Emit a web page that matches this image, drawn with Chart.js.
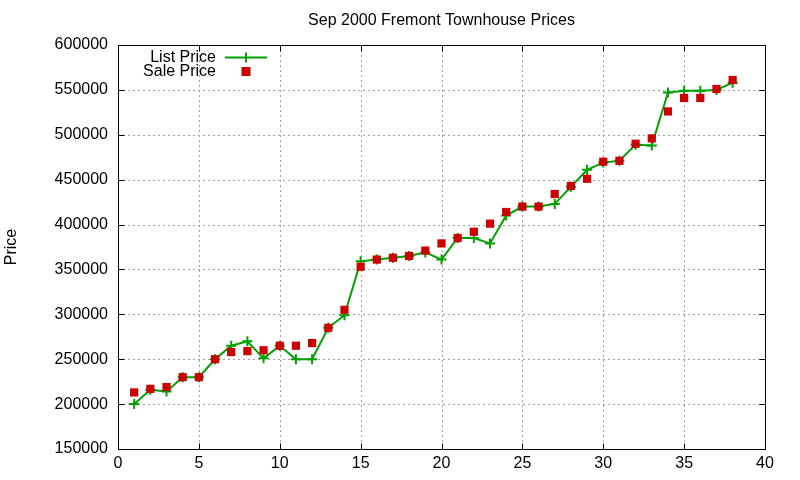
<!DOCTYPE html>
<html>
<head>
<meta charset="utf-8">
<title>Sep 2000 Fremont Townhouse Prices</title>
<script src="https://cdn.jsdelivr.net/npm/chart.js@4.4.1/dist/chart.umd.min.js"></script>
<style>
    html, body { margin: 0; padding: 0; background: #fff; }
    #wrap { width: 800px; height: 480px; }
</style>
</head>
<body>
<div id="wrap"><canvas id="chart" width="800" height="480"></canvas></div>
<script>
// data (nomor rumah, harga listing, harga jual)
const houseNo = [1, 2, 3, 4, 5, 6, 7, 8, 9, 10, 11, 12, 13, 14, 15, 16, 17, 18, 19,
    20, 21, 22, 23, 24, 25, 26, 27, 28, 29, 30, 31, 32, 33, 34, 35, 36, 37, 38];

const listPrice = [200000, 216000, 214000, 230000, 230000, 250000, 265000, 270000, 251000, 265000,
    250000, 250000, 285000, 299000, 359000, 361000, 363000, 365000, 369000, 361000,
    385000, 385000, 379000, 410000, 420000, 420000, 423000, 442000, 461000, 469000,
    471000, 489000, 488000, 547000, 549000, 549000, 550000, 558000];

const salePrice = [213000, 217000, 219000, 230000, 230000, 250000, 258000, 259000, 260000, 265000,
    265000, 268000, 285000, 305000, 353000, 361000, 363000, 365000, 371000, 379000,
    385000, 392000, 401000, 414000, 420000, 420000, 434000, 443000, 451000, 470000,
    471000, 490000, 496000, 526000, 541000, 541000, 551000, 561000];

const xTicks = [0, 5, 10, 15, 20, 25, 30, 35, 40];
const yTicks = [150000, 200000, 250000, 300000, 350000, 400000, 450000, 500000, 550000, 600000];

const chartTitle = 'Sep 2000 Fremont Townhouse Prices';
const yTitle = 'Price';

const FONT = '"Liberation Sans", Arial, Helvetica, sans-serif';
const GREEN = '#00a000';
const RED = '#cc0000';

Chart.defaults.font.family = FONT;
Chart.defaults.font.size = 16;
Chart.defaults.color = '#000';

// plugin untuk gaya gnuplot: grid titik-titik, bingkai, tick ke dalam, judul, key
const gnuplotFrame = {
    id: 'gnuplotFrame',
    beforeDatasetsDraw(chart) {
        const { ctx, chartArea: a, scales: { x, y } } = chart;
        ctx.save();
        ctx.strokeStyle = '#a0a0a0';
        ctx.lineWidth = 1;
        ctx.setLineDash([2, 3]);
        ctx.beginPath();
        xTicks.forEach(v => {
            if (v === x.min || v === x.max) return;
            const px = Math.round(x.getPixelForValue(v)) + 0.5;
            ctx.moveTo(px, a.top);
            ctx.lineTo(px, a.bottom);
        });
        yTicks.forEach(v => {
            if (v === y.min || v === y.max) return;
            const py = Math.round(y.getPixelForValue(v)) + 0.5;
            ctx.moveTo(a.left, py);
            ctx.lineTo(a.right, py);
        });
        ctx.stroke();
        ctx.restore();
    },
    afterDatasetsDraw(chart) {
        const { ctx, chartArea: a, scales: { x, y } } = chart;
        const L = Math.round(a.left) + 0.5, R = Math.round(a.right) + 0.5;
        const T = Math.round(a.top) + 0.5, B = Math.round(a.bottom) + 0.5;
        const tl = 6;
        ctx.save();
        ctx.strokeStyle = '#000';
        ctx.lineWidth = 1;
        ctx.beginPath();
        ctx.rect(L, T, R - L, B - T);
        xTicks.forEach(v => {
            const px = Math.round(x.getPixelForValue(v)) + 0.5;
            ctx.moveTo(px, B); ctx.lineTo(px, B - tl);
            ctx.moveTo(px, T); ctx.lineTo(px, T + tl);
        });
        yTicks.forEach(v => {
            const py = Math.round(y.getPixelForValue(v)) + 0.5;
            ctx.moveTo(L, py); ctx.lineTo(L + tl, py);
            ctx.moveTo(R, py); ctx.lineTo(R - tl, py);
        });
        ctx.stroke();
        ctx.restore();
    },
    afterDraw(chart) {
        const { ctx, chartArea: a } = chart;
        const ds = chart.data.datasets;
        ctx.save();
        ctx.fillStyle = '#000';
        ctx.font = '16px ' + FONT;
        ctx.textAlign = 'center';
        ctx.textBaseline = 'alphabetic';
        ctx.fillText(chartTitle, (a.left + a.right) / 2, 25);

        // key di kiri atas
        const textRight = a.left + 98;
        const sx1 = a.left + 107, sx2 = a.left + 149, sxm = (sx1 + sx2) / 2;
        const row1 = a.top + 12.5, row2 = a.top + 26.5;
        ctx.textAlign = 'right';
        ctx.fillText(ds[0].label, textRight, row1 + 4);
        ctx.fillText(ds[1].label, textRight, row2 + 4.5);

        ctx.strokeStyle = GREEN;
        ctx.lineWidth = 2;
        ctx.beginPath();
        ctx.moveTo(sx1, row1); ctx.lineTo(sx2, row1);
        ctx.moveTo(sxm, row1 - 5); ctx.lineTo(sxm, row1 + 5);
        ctx.stroke();

        ctx.fillStyle = RED;
        ctx.fillRect(sxm - 4.5, row2 - 4.5, 9, 9);
        ctx.restore();
    }
};

const ctx = document.getElementById('chart').getContext('2d');
new Chart(ctx, {
    type: 'line',
    data: {
        datasets: [{
            label: 'List Price',
            data: houseNo.map((n, i) => ({ x: n, y: listPrice[i] })),
            borderColor: GREEN,
            borderWidth: 2,
            pointStyle: 'cross',
            pointRadius: 5,
            pointBorderColor: GREEN,
            pointBorderWidth: 2,
            pointBackgroundColor: GREEN,
            tension: 0,
            fill: false,
            order: 1
        }, {
            label: 'Sale Price',
            data: houseNo.map((n, i) => ({ x: n, y: salePrice[i] })),
            showLine: false,
            pointStyle: 'rect',
            pointRadius: 5.8,
            pointBorderWidth: 0,
            pointBackgroundColor: RED,
            pointBorderColor: RED,
            order: 0
        }]
    },
    options: {
        responsive: false,
        animation: false,
        devicePixelRatio: 1,
        layout: { padding: { top: 45, right: 35, bottom: 0, left: 0 } },
        plugins: {
            legend: { display: false },
            title: { display: false },
            tooltip: { enabled: false }
        },
        scales: {
            x: {
                type: 'linear',
                min: xTicks[0],
                max: xTicks[xTicks.length - 1],
                afterBuildTicks: scale => { scale.ticks = xTicks.map(v => ({ value: v })); },
                afterFit: scale => { scale.height = 31; },
                grid: { display: false, drawTicks: false },
                border: { display: false },
                ticks: { padding: 5, maxRotation: 0, font: { size: 16 } }
            },
            y: {
                type: 'linear',
                min: yTicks[0],
                max: yTicks[yTicks.length - 1],
                afterBuildTicks: scale => { scale.ticks = yTicks.map(v => ({ value: v })); },
                afterFit: scale => { scale.width = 118; },
                grid: { display: false, drawTicks: false },
                border: { display: false },
                ticks: { padding: 10, font: { size: 16 }, callback: v => String(v) },
                title: { display: true, text: yTitle, font: { size: 16 }, padding: { top: 1.5, bottom: 0 } }
            }
        }
    },
    plugins: [gnuplotFrame]
});
</script>
</body>
</html>
